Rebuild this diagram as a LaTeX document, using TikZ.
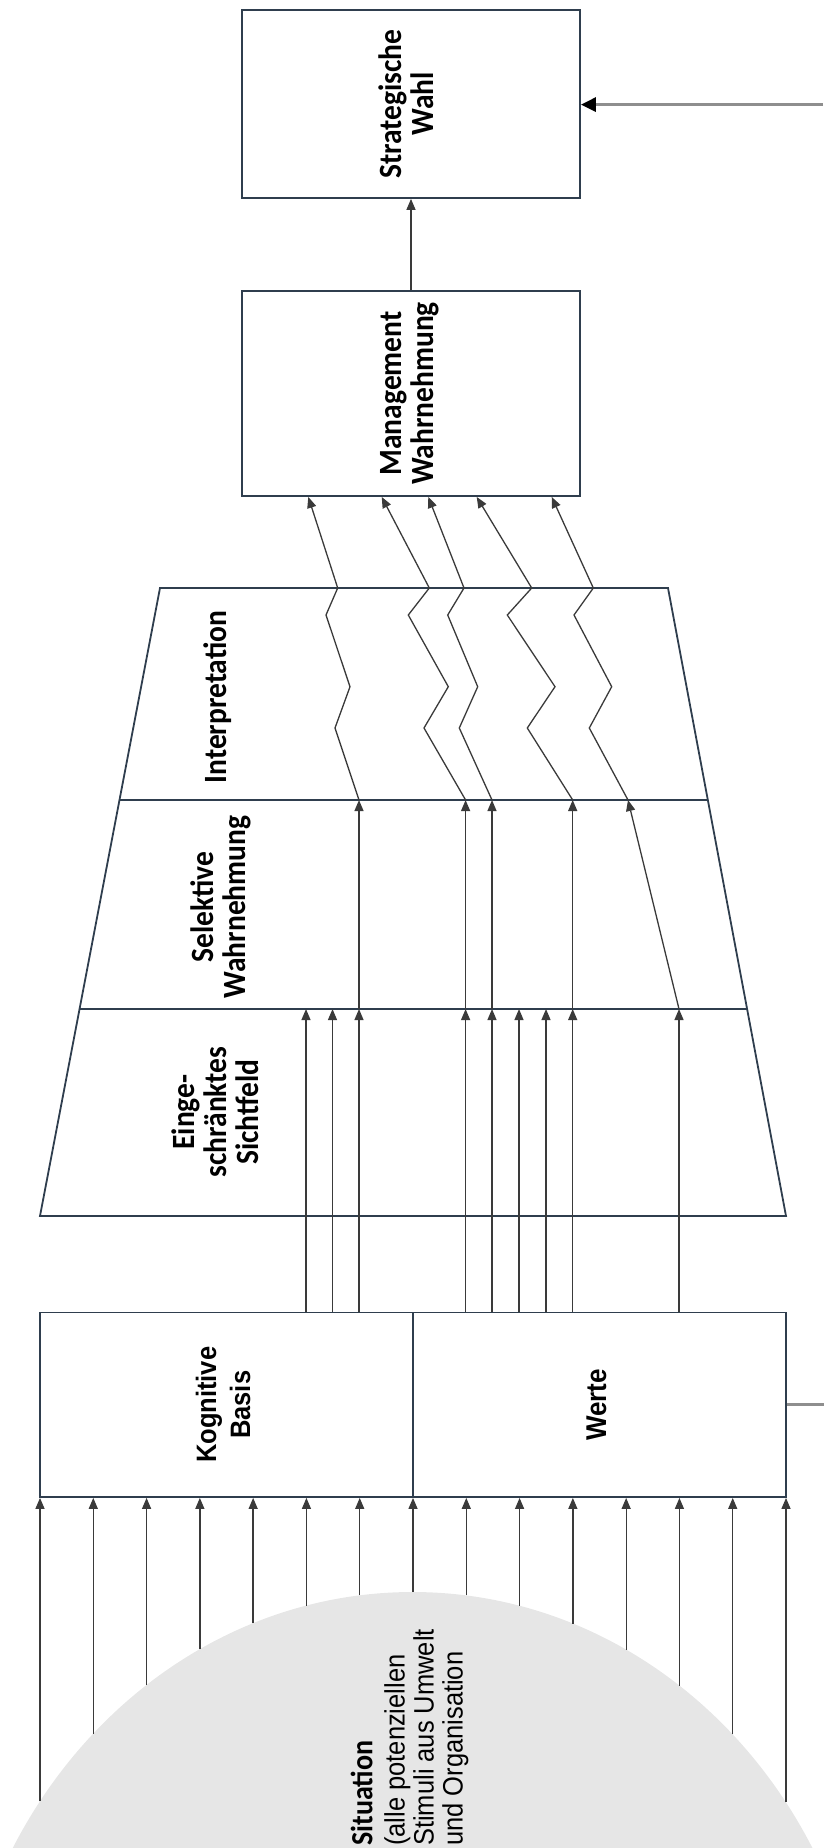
\documentclass[tikz,border=0pt]{standalone}
\usepackage{fontspec}
\setmainfont{Liberation Sans}
\newfontfamily\calfont{Carlito}
\newfontfamily\arifont{Liberation Sans}
\usepackage{tikz}
\usetikzlibrary{arrows.meta}
\usetikzlibrary{calc}
\definecolor{boxline}{HTML}{2F3E4E}
\definecolor{arrowline}{HTML}{3A3A3A}
\definecolor{fbgray}{HTML}{8E8E8E}
\definecolor{domegray}{HTML}{E6E6E6}
\newcommand{\uplabel}[1]{\rotatebox{90}{\scalebox{1}[1.1]{\begin{tabular}{@{}c@{}}#1\end{tabular}}}}

\begin{document}
\begin{tikzpicture}[x=1pt,y=-1pt,
    frame/.style={draw=boxline, line width=1.8pt},
    box/.style={frame, inner sep=0pt},
    arr/.style={draw=arrowline, line width=1.3pt, -{Triangle[length=11pt,width=9pt]}},
    fb/.style={draw=fbgray, line width=3pt},
    cal/.style={font=\calfont\bfseries\fontsize{29.5}{29}\selectfont},
    ari/.style={font=\arifont\bfseries\fontsize{25.5}{31}\selectfont}]
        \useasboundingbox (0,0) rectangle (823,1848);
        \begin{scope}
            \clip (0,0) rectangle (823,1848);
            \fill[domegray] (412.6,2092) ellipse [x radius=458, y radius=500];
        \end{scope}
        \node[box, cal, minimum width=338pt, minimum height=188pt] (wahl) at (411,104) {\uplabel{Strategische\\Wahl}};
        \node[box, cal, minimum width=338pt, minimum height=205pt] (mgmt) at (411,393.5) {\uplabel{Management\\Wahrnehmung}};
        \node[box, ari, minimum width=372.6pt, minimum height=184.5pt] (kog) at (226.3,1404.75) {\uplabel{Kognitive\\Basis}};
        \node[box, minimum width=373.4pt, minimum height=184.5pt, font=\arifont\bfseries\fontsize{26}{31}\selectfont] (werte) at (599.3,1404.75) {\uplabel{Werte}};
        \coordinate (tl) at (160,588);
        \coordinate (tr) at (668,588);
        \coordinate (br) at (786,1216);
        \coordinate (bl) at (40,1216);
        \draw[frame] (tl) -- (tr) -- (br) -- (bl) -- cycle;
        \coordinate (d1l) at ($(tl)!0.3376!(bl)$);
        \coordinate (d1r) at ($(tr)!0.3376!(br)$);
        \coordinate (d2l) at ($(tl)!0.6704!(bl)$);
        \coordinate (d2r) at ($(tr)!0.6704!(br)$);
        \draw[frame] (d1l) -- (d1r);
        \draw[frame] (d2l) -- (d2r);
        \node[cal] (tint) at (220,697) {\uplabel{Interpretation}};
        \node[cal] (tsel) at (223,907) {\uplabel{Selektive\\Wahrnehmung}};
        \node[font=\calfont\bfseries\fontsize{29.5}{28.2}\selectfont] (tein) at (220,1112) {\uplabel{Einge-\\schränktes\\Sichtfeld}};
        \node[inner sep=0pt, rotate=90, anchor=west, font=\arifont\fontsize{25.5}{26.4}\selectfont] (sit) at (411,1846) {\scalebox{1}[1.1]{\begin{tabular}{@{}l@{}}{\calfont\bfseries\fontsize{28}{26.4}\selectfont Situation}\\[3pt](alle potenziellen\\Stimuli aus Umwelt\\und Organisation\end{tabular}}};
        \foreach \i in {0,...,14}{
            \pgfmathsetmacro\xs{40+\i*53.286}
            \pgfmathsetmacro\ys{2092-500*sqrt(1-((\xs-412.6)/458)^2)}
            \draw[arr] (\xs,\ys) -- (\xs,0 |- kog.south);
        }
        \foreach \x in {306,332.5,359,465.6,492,519,546,572.7,679}
            \draw[arr] (\x,0 |- werte.north) -- (\x,0 |- d2l);
        \foreach \x in {359,465.6,492,572.7}
            \draw[arr] (\x,0 |- d2l) -- (\x,0 |- d1l);
        \draw[arr] (679,0 |- d2l) -- (628,0 |- d1l);
        \foreach \a/\b/\c/\d/\e/\f in {359/335/350/326/337.7/308.3, 465.6/424/448.3/408.3/429.3/381.7, 492/459.3/477.7/447.7/464/428.3, 572.7/527.3/555/507.3/531.7/476.7, 628/589.3/611.7/574/593.3/551.7}
            \draw[arr] (\a,0 |- d1l) -- (\b,728) -- (\c,686.7) -- (\d,615) -- (\e,0 |- tl) -- (\f,0 |- mgmt.south);
        \draw[arr] (mgmt.north) -- (wahl.south);
        \coordinate (fbin) at (823,104.6);
        \draw[fb, -{Triangle[length=15pt,width=14pt,color=black]}] (fbin) -- (fbin -| wahl.east);
        \draw[fb] (werte.east) -- ++(37,0);
    \end{tikzpicture}
\end{document}
